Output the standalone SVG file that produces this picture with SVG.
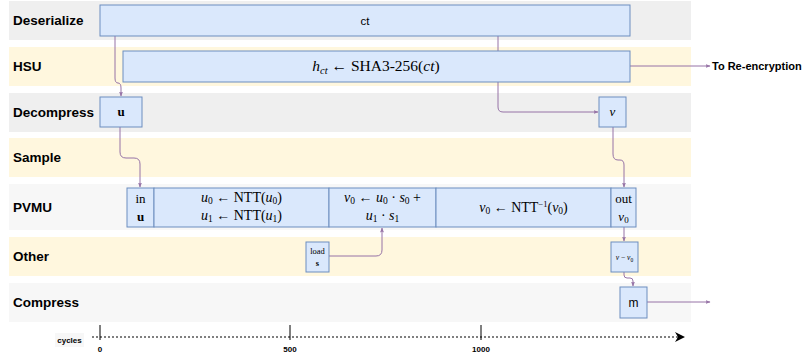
<svg xmlns="http://www.w3.org/2000/svg" width="804" height="359" viewBox="0 0 804 359">
<defs>
<marker id="ap" viewBox="0 0 10 10" refX="9" refY="5" markerWidth="5" markerHeight="5" orient="auto" markerUnits="userSpaceOnUse"><path d="M0,1 L10,5 L0,9 L2,5 Z" fill="#9673a6"/></marker>
<marker id="ak" viewBox="0 0 10 10" refX="9" refY="5" markerWidth="10" markerHeight="10" orient="auto" markerUnits="userSpaceOnUse"><path d="M0,0 L10,5 L0,10 L3,5 Z" fill="#000"/></marker>
<style>
.lg{fill:#efefef}.lw{fill:#f7f7f7}.ly{fill:#fff7de}
.lab{font-family:"Liberation Sans",Arial,sans-serif;font-weight:bold;font-size:13.5px;fill:#000}
.bx{fill:#dae8fc;stroke:#6c8ebf;stroke-width:1}
.m{font-family:"Liberation Serif","DejaVu Serif",serif;fill:#000;text-anchor:middle}
.i{font-style:italic}
.b{font-weight:bold}
.s{font-family:"Liberation Sans",Arial,sans-serif;fill:#000;text-anchor:middle}
.e{fill:none;stroke:#9673a6;stroke-width:1}
.ax{font-family:"Liberation Sans",Arial,sans-serif;font-weight:bold;font-size:8px;fill:#000;text-anchor:middle}
</style>
</defs>
<g id="lanes">
<rect class="lg" x="9" y="1" width="682" height="39"/>
<rect class="ly" x="9" y="47" width="682" height="39"/>
<rect class="lg" x="9" y="93" width="682" height="39"/>
<rect class="ly" x="9" y="138" width="682" height="39"/>
<rect class="lw" x="9" y="184" width="682" height="46"/>
<rect class="ly" x="9" y="237" width="682" height="39"/>
<rect class="lw" x="9" y="283" width="682" height="39"/>
<text class="lab" x="13" y="25">Deserialize</text>
<text class="lab" x="13" y="71">HSU</text>
<text class="lab" x="13" y="117">Decompress</text>
<text class="lab" x="13" y="162">Sample</text>
<text class="lab" x="13" y="212">PVMU</text>
<text class="lab" x="13" y="261">Other</text>
<text class="lab" x="13" y="307">Compress</text>
</g>
<g id="connectors">
<path class="e" d="M115,36 V78 Q115,83 118,83 Q121,83 121,88 V96" marker-end="url(#ap)"/>
<path class="e" d="M498,36 V107 Q498,112 503,112 H598" marker-end="url(#ap)"/>
<path class="e" d="M630,66 H710" marker-end="url(#ap)"/>
<path class="e" d="M120,127 V152 Q120,158 126,158 H134 Q140,158 140,164 V187" marker-end="url(#ap)"/>
<path class="e" d="M613,127 V154 Q613,160 618,160 H620 Q624,160 624,165 V187" marker-end="url(#ap)"/>
<path class="e" d="M329,256 H376 Q382,256 382,250 V228" marker-end="url(#ap)"/>
<path class="e" d="M624,227 V241" marker-end="url(#ap)"/>
<path class="e" d="M624,272 V275 Q624,278 627,278 H630 Q633,278 633,281 V286" marker-end="url(#ap)"/>
<path class="e" d="M647,302 H710" marker-end="url(#ap)"/>
</g>
<g id="reenc">
<text x="712" y="70" font-family="'Liberation Sans',Arial,sans-serif" font-weight="bold" font-size="11" fill="#000">To Re-encryption</text>
</g>
<g id="ct">
<rect class="bx" x="100" y="5" width="530" height="31"/>
<text class="s" x="365" y="25" font-size="11.5">ct</text>
</g>
<g id="hsu">
<rect class="bx" x="123" y="51" width="507" height="31"/>
<text class="m" x="376" y="71" font-size="15.5"><tspan class="i">h</tspan><tspan class="i" font-size="10.5" dy="3">ct</tspan><tspan dy="-3"> ← SHA3-256(</tspan><tspan class="i">ct</tspan>)</text>
</g>
<g id="u">
<rect class="bx" x="100" y="97" width="42" height="30"/>
<text class="m b" x="121" y="116" font-size="13">u</text>
</g>
<g id="v">
<rect class="bx" x="599" y="97" width="27" height="30"/>
<text class="m i" x="612.5" y="116" font-size="13">v</text>
</g>
<g id="in">
<rect class="bx" x="127" y="188" width="27" height="39"/>
<text class="m" x="140.5" y="203" font-size="13">in</text>
<text class="m b" x="140.5" y="221" font-size="13">u</text>
</g>
<g id="ntt">
<rect class="bx" x="154" y="188" width="175" height="39"/>
<text class="m" x="241.5" y="202" font-size="14"><tspan class="i">u</tspan><tspan font-size="9.5" dy="2">0</tspan><tspan dy="-2"> ← NTT(</tspan><tspan class="i">u</tspan><tspan font-size="9.5" dy="2">0</tspan><tspan dy="-2">)</tspan></text>
<text class="m" x="241.5" y="220" font-size="14"><tspan class="i">u</tspan><tspan font-size="9.5" dy="2">1</tspan><tspan dy="-2"> ← NTT(</tspan><tspan class="i">u</tspan><tspan font-size="9.5" dy="2">1</tspan><tspan dy="-2">)</tspan></text>
</g>
<g id="mul">
<rect class="bx" x="329" y="188" width="107" height="39"/>
<text class="m" x="382.5" y="202" font-size="14"><tspan class="i">v</tspan><tspan font-size="9.5" dy="2">0</tspan><tspan dy="-2"> ← </tspan><tspan class="i">u</tspan><tspan font-size="9.5" dy="2">0</tspan><tspan dy="-2"> · </tspan><tspan class="i">s</tspan><tspan font-size="9.5" dy="2">0</tspan><tspan dy="-2"> +</tspan></text>
<text class="m" x="382.5" y="220" font-size="14"><tspan class="i">u</tspan><tspan font-size="9.5" dy="2">1</tspan><tspan dy="-2"> · </tspan><tspan class="i">s</tspan><tspan font-size="9.5" dy="2">1</tspan></text>
</g>
<g id="intt">
<rect class="bx" x="436" y="188" width="175" height="39"/>
<text class="m" x="523.5" y="212" font-size="14"><tspan class="i">v</tspan><tspan font-size="9.5" dy="2">0</tspan><tspan dy="-2"> ← NTT</tspan><tspan font-size="8.5" dy="-5">−1</tspan><tspan dy="5">(</tspan><tspan class="i">v</tspan><tspan font-size="9.5" dy="2">0</tspan><tspan dy="-2">)</tspan></text>
</g>
<g id="out">
<rect class="bx" x="611" y="188" width="25" height="39"/>
<text class="m" x="623.5" y="203" font-size="13">out</text>
<text class="m" x="623.5" y="221" font-size="13"><tspan class="i">v</tspan><tspan font-size="9" dy="2">0</tspan></text>
</g>
<g id="load">
<rect class="bx" x="306" y="242" width="23" height="30"/>
<text class="m" x="317.5" y="254" font-size="8.5">load</text>
<text class="m b" x="317.5" y="266" font-size="8.5">s</text>
</g>
<g id="vsub">
<rect class="bx" x="611" y="242" width="27" height="30"/>
<text class="m" x="624.5" y="260" font-size="7.5"><tspan class="i">v</tspan> − <tspan class="i">v</tspan><tspan font-size="5.5" dy="1.5">0</tspan></text>
</g>
<g id="m">
<rect class="bx" x="620" y="287" width="27" height="31"/>
<text class="s" x="633.5" y="307" font-size="12">m</text>
</g>
<g id="axis">
<rect x="55" y="333" width="29" height="14" fill="#f7f7f7"/>
<text class="ax" x="69.5" y="343">cycles</text>
<path d="M92,337 H684" stroke="#000" stroke-width="1" stroke-dasharray="2,2" fill="none" marker-end="url(#ak)"/>
<path d="M100,325 V340 M290,325 V340 M481,325 V340" stroke="#000" stroke-width="1"/>
<text class="ax" x="100" y="352">0</text>
<text class="ax" x="290" y="352">500</text>
<text class="ax" x="481" y="352">1000</text>
</g>
</svg>
